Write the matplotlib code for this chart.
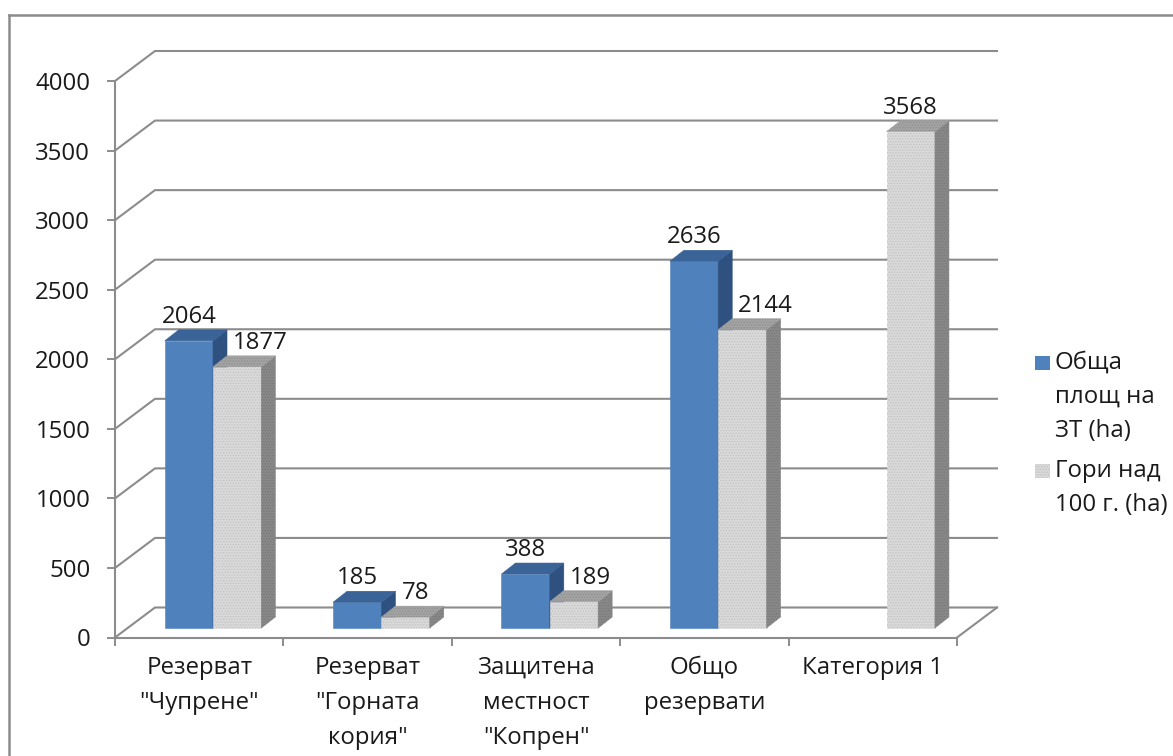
import matplotlib.pyplot as plt
from matplotlib.patches import Polygon, Rectangle
from matplotlib.lines import Line2D

plt.rcParams['font.family'] = ['Open Sans', 'DejaVu Sans']
plt.rcParams['hatch.linewidth'] = 0.6

# data
categories = ['Резерват\n"Чупрене"', 'Резерват\n"Горната\nкория"',
              'Защитена\nместност\n"Копрен"', 'Общо\nрезервати', 'Категория 1']
area_total = [2064, 185, 388, 2636, None]
forest_100 = [1877, 78, 189, 2144, 3568]
series_names = ['Обща\nплощ на\nЗТ (ha)', 'Гори над\n100 г. (ha)']
yticks = list(range(0, 4001, 500))

W, H = 1173, 756
fig = plt.figure(figsize=(W / 100, H / 100), dpi=100)
ax = fig.add_axes([115 / W, (H - 637.5) / H, 842 / W, 556.5 / H])
ax.set_xlim(0, len(categories))
ax.set_ylim(0, 4000)

# pseudo 3d geometry (pixels -> data units)
px_x = 842 / len(categories)
px_y = 556.5 / 4000
wall_dx, wall_dy = 40 / px_x, 30 / px_y
bar_dx, bar_dy = 14 / px_x, 11 / px_y
base = 9.5 / px_y
off, bw = 0.295, 0.287

grid_c = '#8c8c8c'
txt_c = '#1a1a1a'
fs = 17.3

# back wall gridlines and floor
n = len(categories)
for v in yticks:
    ax.plot([0, wall_dx, n + wall_dx], [v, v + wall_dy, v + wall_dy],
            color=grid_c, lw=1.5, clip_on=False, zorder=1)
ax.plot([n, n + wall_dx], [0, wall_dy], color=grid_c, lw=1.5, clip_on=False, zorder=1)


def face(pts, color, hatch=None, hatch_c=None):
    ax.add_patch(Polygon(pts, closed=True, facecolor=color, edgecolor=color,
                         lw=0.4, clip_on=False, zorder=3))
    if hatch:
        ax.add_patch(Polygon(pts, closed=True, facecolor='none', edgecolor=hatch_c,
                             lw=0, hatch=hatch, clip_on=False, zorder=3))


def bar3d(x0, v, cols, hatch=None, hcols=(None, None, None)):
    x1 = x0 + bw
    y0, y1 = base, base + v
    face([(x0, y0), (x1, y0), (x1, y1), (x0, y1)], cols[0], hatch, hcols[0])
    face([(x1, y0), (x1 + bar_dx, y0 + bar_dy), (x1 + bar_dx, y1 + bar_dy), (x1, y1)],
         cols[2], hatch, hcols[2])
    face([(x0, y1), (x1, y1), (x1 + bar_dx, y1 + bar_dy), (x0 + bar_dx, y1 + bar_dy)],
         cols[1], hatch, hcols[1])


blue = ('#4f81bd', '#3a6398', '#2f5180')
gray = ('#d9d9d9', '#a3a3a3', '#888888')
gray_h = ('#c2c2c2', '#8e8e8e', '#787878')

for i in range(n):
    a, f = area_total[i], forest_100[i]
    xb = i + off
    xg = xb + bw
    if a is not None:
        bar3d(xb, a, blue)
        ax.text(xb + bw / 2, base + a + bar_dy + 50, str(a), ha='center', va='baseline',
                fontsize=fs, color=txt_c, zorder=5)
    bar3d(xg, f, gray, hatch='......', hcols=gray_h)
    if a is not None:
        ax.text(xg + bw / 2 - 4 / px_x, base + f + bar_dy + 50, str(f), ha='left',
                va='baseline', fontsize=fs, color=txt_c, zorder=5)
    else:
        ax.text(xg + bw / 2, base + f + bar_dy + 50, str(f), ha='center',
                va='baseline', fontsize=fs, color=txt_c, zorder=5)

# axes
for s in ['top', 'right']:
    ax.spines[s].set_visible(False)
for s in ['left', 'bottom']:
    ax.spines[s].set_color(grid_c)
    ax.spines[s].set_linewidth(1.5)
    ax.spines[s].set_zorder(4)
ax.set_yticks(yticks)
ax.set_yticklabels([str(v) for v in yticks])
ax.tick_params(axis='y', direction='out', length=5.8, width=1.4, color=grid_c,
               pad=12, labelsize=fs, labelcolor=txt_c)
ax.set_xticks(range(n + 1))
ax.set_xticklabels([])
ax.tick_params(axis='x', which='major', direction='out', length=5.8, width=1.4, color=grid_c)
ax.set_xticks([i + 0.5 for i in range(n)], minor=True)
ax.set_xticklabels(categories, minor=True)
ax.tick_params(axis='x', which='minor', length=0, pad=13, labelsize=fs, labelcolor=txt_c)
for lbl in ax.get_xticklabels(minor=True):
    lbl.set_linespacing(1.62)
    lbl.set_verticalalignment('top')
ax.patch.set_visible(False)

# legend
fig.add_artist(Rectangle((1035 / W, 1 - 370 / H), 15 / W, 14 / H,
                         transform=fig.transFigure, facecolor=blue[0], edgecolor='none'))
fig.add_artist(Rectangle((1035 / W, 1 - 478 / H), 15 / W, 14 / H,
                         transform=fig.transFigure, facecolor=gray[0], edgecolor=gray_h[0],
                         lw=0, hatch='......'))
fig.text(1055 / W, 1 - 351 / H, series_names[0], ha='left', va='top', fontsize=fs,
         color=txt_c, linespacing=1.55)
fig.text(1055 / W, 1 - 459 / H, series_names[1], ha='left', va='top', fontsize=fs,
         color=txt_c, linespacing=1.55)

# outer chart border
fig.add_artist(Line2D([9 / W, 1], [1 - 15 / H, 1 - 15 / H], transform=fig.transFigure,
                      color='#8c8c8c', lw=1.8))
fig.add_artist(Line2D([9 / W, 9 / W], [0, 1 - 15 / H], transform=fig.transFigure,
                      color='#8c8c8c', lw=1.8))

fig.savefig('out.png', dpi=100)
